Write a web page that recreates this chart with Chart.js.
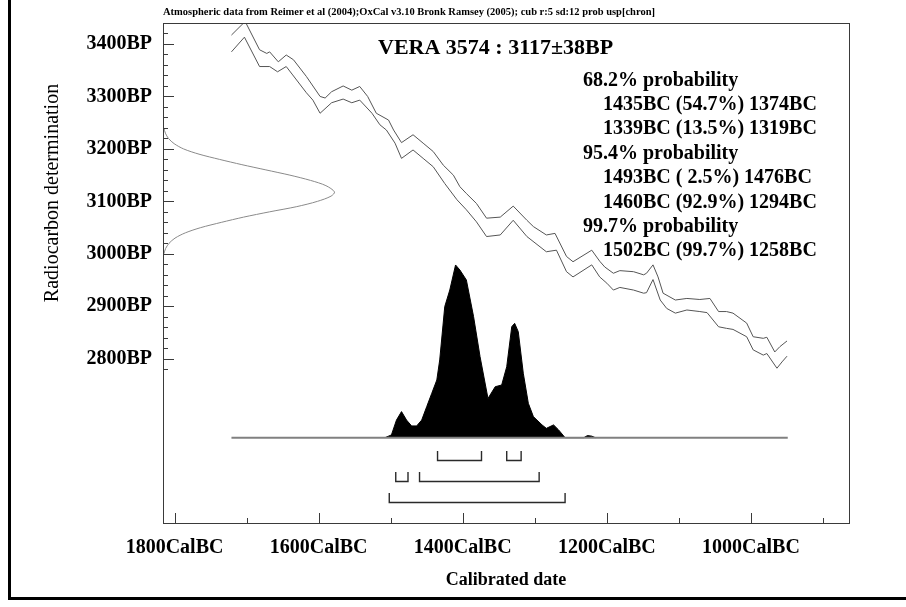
<!DOCTYPE html>
<html>
<head>
<meta charset="utf-8">
<title>VERA 3574 radiocarbon calibration</title>
<script src="https://cdn.jsdelivr.net/npm/chart.js@4.4.1/dist/chart.umd.min.js"></script>
<style>
  html, body { margin: 0; padding: 0; background: #ffffff; }
  canvas { display: block; }
</style>
</head>
<body>
<canvas id="calib" width="906" height="607"></canvas>
<script>
const SERIF = "'Liberation Serif', 'Times New Roman', serif";

const CITATION = 'Atmospheric data from Reimer et al (2004);OxCal v3.10 Bronk Ramsey (2005); cub r:5 sd:12 prob usp[chron]';
const SAMPLE_TITLE = 'VERA 3574 : 3117\u00b138BP';

// Calibration curve, 1-sigma envelope: calendar year BC against radiocarbon age BP
const upperYearBC = [1721,1702,1682,1672,1668,1656,1645,1635,1617,1598,1591,1582,1566,1554,1543,1532,1520,1503,1496,1485,1469,1455,1441,1427,1413,1404,1395,1381,1367,1348,1330,1311,1302,1284,1272,1256,1247,1221,1210,1203,1191,1182,1163,1149,1145,1136,1129,1122,1105,1089,1071,1057,1045,1034,1025,1006,997,983,978,967,960,950];
const upperAgeBP  = [3417,3443,3389,3382,3385,3366,3379,3370,3338,3300,3297,3309,3320,3312,3319,3300,3268,3255,3236,3212,3227,3211,3195,3169,3150,3128,3115,3096,3068,3070,3091,3064,3052,3036,3039,2995,2985,3007,2986,2975,2963,2968,2966,2960,2963,2979,2956,2925,2912,2915,2913,2915,2890,2890,2887,2868,2842,2839,2841,2813,2823,2834];
const lowerYearBC = [1721,1703,1682,1668,1657,1645,1636,1617,1608,1598,1582,1566,1554,1543,1526,1515,1506,1494,1485,1469,1455,1441,1425,1408,1395,1381,1367,1348,1330,1311,1284,1270,1256,1247,1221,1210,1200,1191,1182,1163,1149,1145,1136,1126,1117,1105,1089,1071,1061,1045,1034,1025,1006,997,983,978,964,957,950];
const lowerAgeBP  = [3385,3413,3357,3357,3347,3357,3341,3307,3293,3268,3288,3295,3288,3293,3268,3246,3236,3211,3182,3198,3182,3166,3134,3103,3084,3061,3033,3036,3064,3033,3004,3007,2966,2956,2979,2956,2944,2931,2936,2931,2925,2926,2951,2912,2896,2887,2893,2890,2888,2861,2858,2856,2842,2817,2807,2810,2782,2794,2805];

// Radiocarbon measurement: relative likelihood by age BP
const dateAgeBP   = [3000,3010,3020,3030,3040,3050,3060,3070,3080,3090,3100,3110,3118,3130,3140,3150,3160,3170,3180,3190,3200,3210,3220,3230,3240];
const dateDensity = [0.005,0.015,0.035,0.07,0.13,0.22,0.34,0.47,0.62,0.78,0.90,0.98,1.0,0.95,0.86,0.74,0.60,0.46,0.33,0.21,0.12,0.065,0.032,0.014,0.005];

// Calibrated date: relative probability by calendar year BC
const calYearBC = [1508,1499,1492,1485,1478,1471,1464,1457,1450,1443,1436,1432,1425,1418,1410,1404,1395,1385,1376,1365,1355,1346,1339,1332,1328,1323,1316,1309,1302,1290,1284,1274,1267,1258,1232,1227,1221,1216];
const calProb   = [0,0.016,0.102,0.151,0.102,0.068,0.068,0.102,0.180,0.257,0.334,0.450,0.759,0.855,1.0,0.971,0.913,0.701,0.469,0.227,0.295,0.305,0.411,0.643,0.662,0.614,0.373,0.199,0.122,0.074,0.054,0.074,0.045,0,0,0.012,0.009,0];

// Span of the calibration data (baseline under the distribution)
const baselineBC = [1721, 949];

// Highest probability ranges
const levelNames   = ['68.2% probability', '95.4% probability', '99.7% probability'];
const rangeFromBC  = [[1435, 1339], [1493, 1460], [1502]];
const rangeToBC    = [[1374, 1319], [1476, 1294], [1258]];
const rangePercent = [[54.7, 13.5], [2.5, 92.9], [99.7]];

// Labelled axis ticks
const xTickBC = [1800, 1600, 1400, 1200, 1000];
const yTickBP = [3400, 3300, 3200, 3100, 3000, 2900, 2800];

const toPoints = (xs, ys) => xs.map((x, i) => ({ x, y: ys[i] }));

const decorations = {
  id: 'decorations',
  afterDraw(chart) {
    const { ctx, chartArea: area, scales } = chart;
    const xs = scales.x, ys = scales.y, yp = scales.yp;
    ctx.save();

    // window edge on the left and bottom
    ctx.fillStyle = '#000';
    ctx.fillRect(8, 0, 3, 600);
    ctx.fillRect(8, 597, 898, 3);

    // plot frame
    ctx.strokeStyle = '#3a3a3a';
    ctx.lineWidth = 1;
    ctx.strokeRect(area.left + 0.5, area.top + 0.5, area.right - area.left, area.bottom - area.top);

    // inward tick marks
    ctx.beginPath();
    for (let bp = 2780; bp <= 3440; bp += 20) {
      const py = Math.round(ys.getPixelForValue(bp)) + 0.5;
      ctx.moveTo(area.left, py);
      ctx.lineTo(area.left + (bp % 100 === 0 ? 11 : 5), py);
    }
    for (let bc = 900; bc <= 1800; bc += 100) {
      const px = Math.round(xs.getPixelForValue(bc)) + 0.5;
      ctx.moveTo(px, area.bottom);
      ctx.lineTo(px, area.bottom - (bc % 200 === 0 ? 10 : 5));
    }
    ctx.stroke();

    // range brackets under the distribution
    const base = yp.getPixelForValue(0);
    ctx.strokeStyle = '#2a2a2a';
    ctx.lineWidth = 1.4;
    rangeFromBC.forEach((row, i) => {
      const yRow = Math.round(base + 22 + i * 21.3) + 0.5;
      row.forEach((from, j) => {
        const x1 = xs.getPixelForValue(from);
        const x2 = xs.getPixelForValue(rangeToBC[i][j]);
        ctx.beginPath();
        ctx.moveTo(x1, yRow - 9.5);
        ctx.lineTo(x1, yRow);
        ctx.lineTo(x2, yRow);
        ctx.lineTo(x2, yRow - 9.5);
        ctx.stroke();
      });
    });

    // texts
    ctx.fillStyle = '#000';
    ctx.textBaseline = 'middle';
    ctx.textAlign = 'left';

    ctx.font = `bold 10px ${SERIF}`;
    const cw = ctx.measureText(CITATION).width;
    ctx.save();
    ctx.translate(area.left, 12);
    ctx.scale(492 / cw, 1);
    ctx.fillText(CITATION, 0, 0);
    ctx.restore();

    ctx.font = `bold 22px ${SERIF}`;
    ctx.fillText(SAMPLE_TITLE, 378, 48);

    ctx.font = `bold 20px ${SERIF}`;
    let line = 0;
    const lineY = () => 80.5 + 24.4 * line++;
    levelNames.forEach((name, i) => {
      ctx.fillText(name, 583, lineY());
      rangeFromBC[i].forEach((from, j) => {
        const pct = rangePercent[i][j].toFixed(1).padStart(4, ' ');
        ctx.fillText(`${from}BC (${pct}%) ${rangeToBC[i][j]}BC`, 603, lineY());
      });
    });

    ctx.save();
    ctx.translate(53, 193);
    ctx.rotate(-Math.PI / 2);
    ctx.textAlign = 'center';
    ctx.font = `20px ${SERIF}`;
    ctx.fillText('Radiocarbon determination', 0, 0);
    ctx.restore();

    ctx.restore();
  }
};

new Chart(document.getElementById('calib'), {
  type: 'line',
  data: {
    datasets: [
      { data: toPoints(upperYearBC, upperAgeBP), xAxisID: 'x', yAxisID: 'y',
        borderColor: '#555555', borderWidth: 1, pointRadius: 0, fill: false },
      { data: toPoints(lowerYearBC, lowerAgeBP), xAxisID: 'x', yAxisID: 'y',
        borderColor: '#555555', borderWidth: 1, pointRadius: 0, fill: false },
      { data: toPoints(dateDensity, dateAgeBP), xAxisID: 'xd', yAxisID: 'y',
        borderColor: '#8a8a8a', borderWidth: 1, pointRadius: 0, fill: false, tension: 0.3 },
      { data: toPoints(baselineBC, [0, 0]), xAxisID: 'x', yAxisID: 'yp',
        borderColor: '#808080', borderWidth: 2, pointRadius: 0, fill: false },
      { data: toPoints(calYearBC, calProb), xAxisID: 'x', yAxisID: 'yp',
        borderColor: '#000000', backgroundColor: '#000000', borderWidth: 1,
        pointRadius: 0, fill: { value: 0 } }
    ]
  },
  options: {
    responsive: false,
    animation: false,
    devicePixelRatio: 1,
    layout: { padding: { top: 23, right: 57, left: 0, bottom: 0 } },
    plugins: { legend: { display: false }, tooltip: { enabled: false } },
    scales: {
      x: {
        type: 'linear', position: 'bottom', reverse: true, min: 864, max: 1816,
        afterBuildTicks: s => { s.ticks = xTickBC.map(v => ({ value: v })); },
        afterFit: s => { s.height = 84; },
        grid: { display: false, drawTicks: false },
        border: { display: false },
        ticks: {
          callback: v => v + 'CalBC', color: '#000', padding: 13, autoSkip: false, maxRotation: 0,
          font: { family: SERIF, size: 20, weight: 'bold' }
        },
        title: {
          display: true, text: 'Calibrated date', color: '#000',
          font: { family: SERIF, size: 18, weight: 'bold' }, padding: { top: 0, bottom: 16 }
        }
      },
      y: {
        type: 'linear', position: 'left', min: 2487, max: 3440,
        afterBuildTicks: s => { s.ticks = yTickBP.map(v => ({ value: v })); },
        afterFit: s => { s.width = 163; },
        grid: { display: false, drawTicks: false },
        border: { display: false },
        ticks: {
          callback: v => v + 'BP', color: '#000', padding: 11, autoSkip: false,
          font: { family: SERIF, size: 20, weight: 'bold' }
        }
      },
      xd: { type: 'linear', position: 'bottom', display: false, min: 0, max: 4 },
      yp: { type: 'linear', position: 'left', display: false, min: -0.494, max: 2.401 }
    }
  },
  plugins: [decorations]
});
</script>
</body>
</html>
